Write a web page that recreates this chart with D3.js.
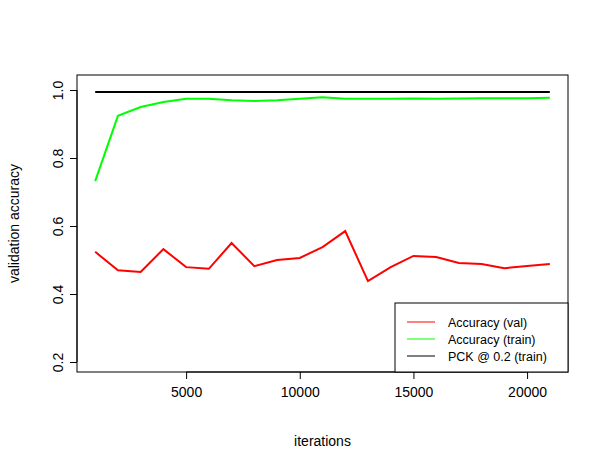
<!DOCTYPE html>
<html><head><meta charset="UTF-8">
<script src="https://cdn.jsdelivr.net/npm/d3@7"></script>
<style>body{margin:0;background:#fff}text{font-family:"Liberation Sans",Arial,sans-serif}</style>
</head><body><script>
const iters = d3.range(1000, 22000, 1000);
const accVal = [0.524,0.47,0.465,0.532,0.479,0.474,0.55,0.482,0.5,0.506,0.538,0.585,0.438,0.479,0.512,0.509,0.491,0.488,0.476,0.482,0.488];
const accTrain = [0.732,0.924,0.95,0.965,0.974,0.974,0.97,0.968,0.97,0.974,0.979,0.974,0.974,0.974,0.975,0.974,0.975,0.976,0.976,0.976,0.977];
const pck = iters.map(() => 0.994);
const xTicks = [5000,10000,15000,20000];
const yTicks = [0.2,0.4,0.6,0.8,1.0];
const series = [
  {name:"Accuracy (val)", vals:accVal, color:"#ff0000"},
  {name:"Accuracy (train)", vals:accTrain, color:"#00ff00"},
  {name:"PCK @ 0.2 (train)", vals:pck, color:"#000000"}];

const svg = d3.select("body").append("svg").attr("width",608).attr("height",471);
const L=77,R=568,T=75,B=372;
const x = d3.scaleLinear().domain([200,21800]).range([L,R]);
const y = d3.scaleLinear().domain([0.2,1.0]).range([362,90]);

svg.append("rect").attr("x",L).attr("y",T).attr("width",R-L).attr("height",B-T)
  .attr("fill","none").attr("stroke","#000");

const xa = svg.append("g").attr("transform",`translate(0,${B})`)
  .call(d3.axisBottom(x).tickValues(xTicks).tickSize(7).tickPadding(8).tickFormat(d3.format("d")));
const ya = svg.append("g").attr("transform",`translate(${L},0)`)
  .call(d3.axisLeft(y).tickValues(yTicks).tickSize(7).tickFormat(d3.format(".1f")));
[xa,ya].forEach(a=>{a.select(".domain").remove();a.selectAll("text").attr("font-size",14).attr("font-family","Liberation Sans");});
xa.append("line").attr("x1",x(5000)).attr("x2",x(20000)).attr("stroke","#000");
ya.append("line").attr("y1",y(0.2)).attr("y2",y(1.0)).attr("stroke","#000");
ya.selectAll(".tick text").attr("transform","rotate(-90)").attr("x",0).attr("y",-14)
  .attr("dy","0").attr("text-anchor","middle");

svg.append("text").attr("x",(L+R)/2).attr("y",446).attr("text-anchor","middle")
  .attr("font-size",14).text("iterations");
svg.append("text").attr("transform",`translate(19,${(T+B)/2}) rotate(-90)`)
  .attr("text-anchor","middle").attr("font-size",14).text("validation accuracy");

const line = d3.line().x((d,i)=>x(iters[i])).y(d=>y(d));
series.forEach(s=>svg.append("path").attr("d",line(s.vals)).attr("fill","none")
  .attr("stroke",s.color).attr("stroke-width",2));

const lg = svg.append("g").attr("transform","translate(395,303)");
lg.append("rect").attr("width",173).attr("height",69).attr("fill","#fff").attr("stroke","#000");
series.forEach((s,i)=>{
  const yy=19+i*17;
  lg.append("line").attr("x1",12).attr("x2",40).attr("y1",yy).attr("y2",yy).attr("stroke",s.color);
  lg.append("text").attr("x",53).attr("y",yy+4.5).attr("font-size",12.5).text(s.name);
});
</script></body></html>
